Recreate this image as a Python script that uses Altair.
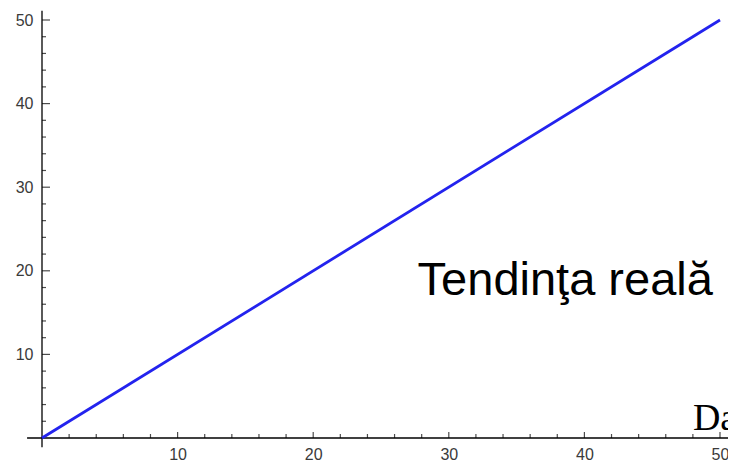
import altair as alt
import pandas as pd

# data
line_x = [0, 50]
line_y = [0, 50]
major_ticks = [10, 20, 30, 40, 50]
minor_ticks = [2, 4, 6, 8, 12, 14, 16, 18, 22, 24, 26, 28, 32, 34, 36, 38, 42, 44, 46, 48]
x_axis_extent = [-1.1, 51.2]
y_axis_extent = [-1.1, 51.1]
label_text = ["Tendinţa reală"]
label_x = [27.7]
label_y = [17.1]
cut_text = ["Da"]
cut_x = [48.0]
cut_y = [0.95]

xs = alt.Scale(domain=[0, 50], nice=False, zero=False)
ys = alt.Scale(domain=[0, 50], nice=False, zero=False)

line_df = pd.DataFrame({"x": line_x, "y": line_y})
major_df = pd.DataFrame({"v": major_ticks, "z": [0] * len(major_ticks)})
minor_df = pd.DataFrame({"v": minor_ticks, "z": [0] * len(minor_ticks)})
xaxis_df = pd.DataFrame({"x": [x_axis_extent[0]], "x2": [x_axis_extent[1]], "y": [0]})
yaxis_df = pd.DataFrame({"y": [y_axis_extent[0]], "y2": [y_axis_extent[1]], "x": [0]})
lab_df = pd.DataFrame({"t": label_text, "x": label_x, "y": label_y})
cut_df = pd.DataFrame({"t": cut_text, "x": cut_x, "y": cut_y})

label_color = "#3a3a3a"
label_font = "Liberation Sans"

base_line = alt.Chart(line_df).mark_line(color="#2323ee", strokeWidth=2.8, clip=False).encode(
    x=alt.X("x:Q", scale=xs, axis=alt.Axis(
        values=major_ticks, domain=False, ticks=False, tickSize=0, grid=False,
        labelPadding=8, labelFont=label_font, labelFontSize=16, labelColor=label_color,
        title=None, labelFlush=False)),
    y=alt.Y("y:Q", scale=ys, axis=alt.Axis(
        values=major_ticks, domain=False, ticks=False, tickSize=0, grid=False,
        labelPadding=9, labelFont=label_font, labelFontSize=16, labelColor=label_color,
        title=None, labelFlush=False)),
)

xaxis_rule = alt.Chart(xaxis_df).mark_rule(color="black", strokeWidth=1.3, clip=False).encode(
    x=alt.X("x:Q", scale=xs), x2="x2:Q", y=alt.Y("y:Q", scale=ys))
yaxis_rule = alt.Chart(yaxis_df).mark_rule(color="black", strokeWidth=1.3, clip=False).encode(
    y=alt.Y("y:Q", scale=ys), y2="y2:Q", x=alt.X("x:Q", scale=xs))

y_major = alt.Chart(major_df).mark_tick(orient="horizontal", size=8, thickness=1.2,
                                          xOffset=4, color="black").encode(
    y=alt.Y("v:Q", scale=ys), x=alt.X("z:Q", scale=xs))
y_minor = alt.Chart(minor_df).mark_tick(orient="horizontal", size=4, thickness=1.2,
                                          xOffset=2, color="black").encode(
    y=alt.Y("v:Q", scale=ys), x=alt.X("z:Q", scale=xs))
x_major = alt.Chart(major_df).mark_tick(orient="vertical", size=6, thickness=1.2,
                                          yOffset=-3, color="black").encode(
    x=alt.X("v:Q", scale=xs), y=alt.Y("z:Q", scale=ys))
x_minor = alt.Chart(minor_df).mark_tick(orient="vertical", size=4, thickness=1.2,
                                          yOffset=-2, color="black").encode(
    x=alt.X("v:Q", scale=xs), y=alt.Y("z:Q", scale=ys))

lab = alt.Chart(lab_df).mark_text(font="Liberation Sans", fontSize=47, align="left",
                                  baseline="alphabetic", color="black").encode(
    x=alt.X("x:Q", scale=xs), y=alt.Y("y:Q", scale=ys), text="t:N")
cut = alt.Chart(cut_df).mark_text(font="Liberation Serif", fontSize=38, align="left",
                                  baseline="alphabetic", color="black", clip=False).encode(
    x=alt.X("x:Q", scale=xs), y=alt.Y("y:Q", scale=ys), text="t:N")

chart = alt.layer(
    xaxis_rule, yaxis_rule, y_minor, y_major, x_minor, x_major, base_line, lab, cut
).properties(
    width=678, height=418,
    padding={"left": 34, "top": 12, "right": 8, "bottom": 26},
    autosize=alt.AutoSizeParams(type="none"),
    background="white",
).configure_view(stroke=None)

chart.save("out.html", embed_options={"renderer": "svg", "actions": False})
